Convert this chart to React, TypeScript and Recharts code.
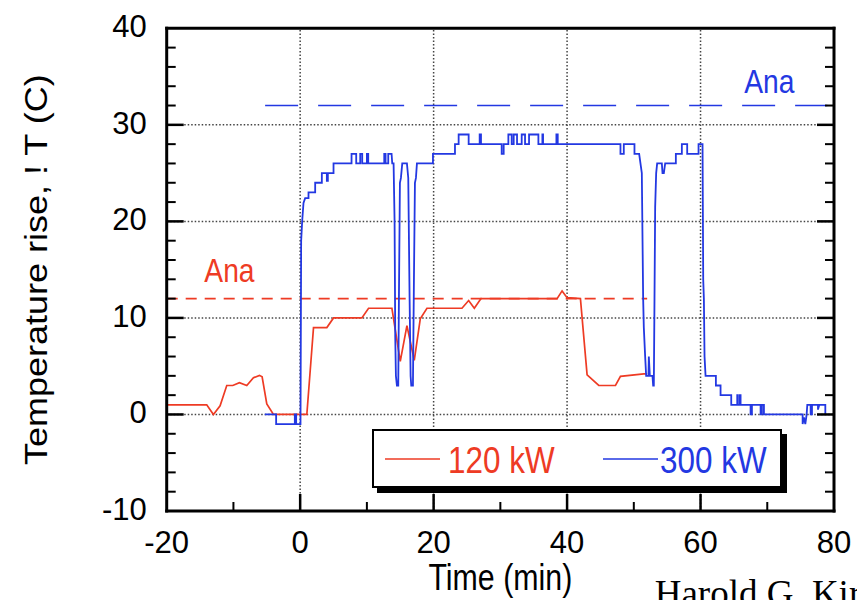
import React from 'react';
import { LineChart, Line, XAxis, YAxis, ReferenceLine, ReferenceDot, Legend } from 'recharts';

const FONT = '"Liberation Sans", Arial, Helvetica, sans-serif';
const RED = '#ee3b24';
const BLUE = '#2338e2';

const X_MIN = -20;
const X_MAX = 80;
const Y_MIN = -10;
const Y_MAX = 40;

const xTicks = [-20, -10, 0, 10, 20, 30, 40, 50, 60, 70, 80];
const xLabelTicks = [-20, 0, 20, 40, 60, 80];
const yTicks = [-10, -8, -6, -4, -2, 0, 2, 4, 6, 8, 10, 12, 14, 16, 18, 20, 22, 24, 26, 28, 30, 32, 34, 36, 38, 40];
const yLabelTicks = [-10, 0, 10, 20, 30, 40];
const xGrid = [0, 20, 40, 60];
const yGrid = [0, 10, 20, 30];

const seriesNames = ['120 kW', '300 kW'];

// 120 kW measured temperature rise
const redTime = [-20, -14, -13, -12, -11, -10.1, -9.1, -8, -7, -6.1, -5.7, -5, -4, 1.0, 2, 4, 5, 9.25, 10.25, 13.75, 15, 16, 17.1, 18, 19, 24.25, 25.25, 26.1, 27.1, 38.5, 39.25, 40, 42, 43, 44.75, 47.25, 48, 51.5, 52];
const redTemp = [1, 1, 0, 0.9, 3.0, 3.0, 3.3, 3.0, 3.8, 4.05, 3.9, 1.1, 0, 0, 9, 9, 10, 10, 11, 11, 5.5, 9.2, 5.6, 9.9, 11, 11, 11.8, 11, 12, 12, 12.8, 12.1, 12, 4.1, 3.0, 3.0, 3.95, 4.2, 4.2];

// 300 kW measured temperature rise
const blueTime = [-5.3, -3.6, -3.6, -0.8, -0.8, -0.6, -0.6, 0.05, 0.15, 0.3, 0.5, 0.75, 1.25, 1.25, 2.25, 2.25, 3.25, 3.25, 4.0, 4.0, 4.15, 4.15, 5.0, 5.0, 7.7, 7.7, 8.4, 8.4, 9.0, 9.0, 9.3, 9.3, 10.0, 10.0, 10.2, 10.2, 12.6, 12.6, 12.8, 12.8, 13.2, 13.2, 13.7, 13.8, 14.0, 14.15, 14.25, 14.35, 14.5, 14.7, 14.8, 14.95, 15.1, 15.3, 16.0, 16.2, 16.4, 16.55, 16.65, 16.9, 17.05, 17.2, 17.35, 17.5, 19.9, 19.9, 23.2, 23.2, 23.75, 23.75, 25.25, 25.25, 26.9, 26.9, 27.1, 27.1, 30.2, 30.2, 30.5, 30.5, 31.2, 31.2, 31.7, 31.7, 32.0, 32.0, 32.5, 32.5, 33.2, 33.2, 33.7, 33.7, 34.3, 34.3, 35.7, 35.7, 36.3, 36.3, 36.4, 36.4, 38.4, 38.4, 38.6, 38.6, 48.0, 48.0, 48.5, 48.5, 50.1, 50.1, 50.8, 51.2, 51.4, 51.5, 51.7, 51.85, 52.2, 52.25, 52.4, 52.8, 52.9, 53.0, 53.1, 53.2, 53.35, 53.5, 54.2, 54.3, 54.5, 54.7, 56.3, 56.3, 57.2, 57.2, 58.0, 58.0, 59.7, 59.7, 60.3, 60.4, 60.5, 60.6, 60.75, 62.3, 62.3, 63.0, 63.0, 64.6, 64.6, 65.5, 65.5, 65.6, 65.6, 65.9, 65.9, 66.0, 66.0, 67.5, 67.5, 67.7, 67.7, 69.0, 69.0, 69.2, 69.2, 69.5, 69.5, 75.3, 75.3, 75.5, 75.7, 75.9, 76.0, 76.5, 76.5, 76.7, 76.7, 77.6, 77.6, 77.8, 78.7, 78.7];
const blueTemp = [0, 0, -1, -1, 0, 0, -1, -1, 18, 20, 21.9, 22.4, 22.4, 23, 23, 24, 24, 25, 25, 24.2, 24.2, 25, 25, 26, 26, 27, 27, 26, 26, 27, 27, 26, 26, 27, 27, 26, 26, 27, 27, 26, 26, 27, 27, 26, 26, 20, 8, 4, 3, 3, 12, 24, 24.5, 26, 26, 24.5, 12, 4, 3, 3, 14, 24, 24.5, 26, 26, 27, 27, 28, 28, 29, 29, 28, 28, 29, 29, 28, 28, 27, 27, 28, 28, 29, 29, 28, 28, 29, 29, 28, 28, 29, 29, 28, 28, 29, 29, 28, 28, 29, 29, 28, 28, 29, 29, 28, 28, 27, 27, 28, 28, 27, 27, 25, 12, 9, 6, 4, 4, 6, 4, 4, 3, 3, 12, 21.5, 25, 26, 26, 25, 25, 26, 26, 27, 27, 28, 28, 27, 27, 28, 28, 14, 12, 6, 4, 4, 3, 3, 2, 2, 1, 1, 2, 2, 1, 1, 2, 2, 1, 1, 0, 0, 1, 1, 0, 0, 1, 1, 0, 0, -1, -0.3, -1, 0, 1, 1, 0, 0, 1, 1, 0.5, 1, 1, 0];

// Design limits ("Ana")
const redLimit = { value: 12, from: -20, to: 52, labelX: -10.6, labelY: 13.7 };
const blueLimit = { value: 32, from: -5.25, to: 79, labelX: 70.3, labelY: 33.3 };

const redData = redTime.map((t, i) => ({ t, v: redTemp[i] }));
const blueData = blueTime.map((t, i) => ({ t, v: blueTemp[i] }));

const BottomTick = (p: any) => {
  const { x, y, payload } = p;
  const v = payload.value;
  const major = v % 20 === 0;
  const edge = v === X_MIN || v === X_MAX;
  return (
    <g>
      {!edge && <line x1={x} x2={x} y1={y} y2={y - (major ? 17 : 9)} stroke="#000" strokeWidth={major ? 2.5 : 2} />}
      {xLabelTicks.includes(v) && (
        <text x={x} y={y + 42} textAnchor="middle" fontFamily={FONT} fontSize={31} fill="#000">{v}</text>
      )}
    </g>
  );
};

const TopTick = (p: any) => {
  const { x, y, payload } = p;
  const v = payload.value;
  const major = v % 20 === 0;
  const edge = v === X_MIN || v === X_MAX;
  if (edge) return <g />;
  return <line x1={x} x2={x} y1={y} y2={y + (major ? 17 : 9)} stroke="#000" strokeWidth={major ? 2.5 : 2} />;
};

const LeftTick = (p: any) => {
  const { x, y, payload } = p;
  const v = payload.value;
  const major = v % 10 === 0;
  const edge = v === Y_MIN || v === Y_MAX;
  return (
    <g>
      {!edge && <line x1={x} x2={x + (major ? 17 : 9)} y1={y} y2={y} stroke="#000" strokeWidth={major ? 2.5 : 2} />}
      {yLabelTicks.includes(v) && (
        <text x={x - 20} y={y + 9} textAnchor="end" fontFamily={FONT} fontSize={31} fill="#000">{v}</text>
      )}
    </g>
  );
};

const RightTick = (p: any) => {
  const { x, y, payload } = p;
  const v = payload.value;
  const major = v % 10 === 0;
  const edge = v === Y_MIN || v === Y_MAX;
  if (edge) return <g />;
  return <line x1={x} x2={x - (major ? 17 : 9)} y1={y} y2={y} stroke="#000" strokeWidth={major ? 2.5 : 2} />;
};

const XLabel = (p: any) => {
  const vb = p.viewBox || { x: 0, y: 0, width: 0 };
  const cx = vb.x + vb.width / 2;
  const by = vb.y + 79;
  return (
    <g>
      <text transform={`translate(${cx},${by}) scale(0.82,1)`} textAnchor="middle" fontFamily={FONT} fontSize={37} fill="#000">Time (min)</text>
      <text x={vb.x + 488} y={vb.y + 95} fontFamily={'"Liberation Serif", "Times New Roman", serif'} fontSize={37} fill="#000">Harold G. Kirk</text>
    </g>
  );
};

const YLabel = (p: any) => {
  const vb = p.viewBox || { x: 0, y: 0, height: 0 };
  const bx = vb.x - 20;
  const cy = vb.y + vb.height / 2;
  return (
    <text transform={`translate(${bx},${cy}) rotate(-90) scale(1,0.88)`} textAnchor="middle" fontFamily={FONT} fontSize={36} fill="#000">
      Temperature rise, ! T (C)
    </text>
  );
};

const AnaText = (color: string) => (p: any) => (
  <text transform={`translate(${p.cx},${p.cy}) scale(0.83,1)`} textAnchor="middle" fontFamily={FONT} fontSize={34} fill={color}>Ana</text>
);

const LegendBox = (props: any) => {
  const payload = props.payload || [];
  const slots = [
    { lx: 11, tx: 74 },
    { lx: 229, tx: 286 },
  ];
  return (
    <div style={{ position: 'relative', width: 406, height: 55, border: '2px solid #000', background: '#fff', boxShadow: '5px 5px 0 #000' }}>
      <svg width={406} height={55} style={{ position: 'absolute', left: 0, top: 0 }}>
        {payload.map((e: any, i: number) => {
          const s = slots[i] || slots[0];
          return (
            <g key={i}>
              <line x1={s.lx} x2={s.lx + 55} y1={28} y2={28} stroke={e.color} strokeWidth={1.6} />
              <text transform={`translate(${s.tx},${42}) scale(0.85,1)`} fontFamily={FONT} fontSize={37} fill={e.color}>{e.value}</text>
            </g>
          );
        })}
      </svg>
    </div>
  );
};

export default function App() {
  return (
    <div style={{ position: 'absolute', left: 0, top: 0, width: 857, height: 600, overflow: 'hidden', background: '#fff' }}>
      <LineChart width={857} height={600} margin={{ top: 27.3, right: 22, bottom: 29, left: 66.7 }}>
        <XAxis
          dataKey="t"
          type="number"
          domain={[X_MIN, X_MAX]}
          ticks={xTicks}
          interval={0}
          allowDataOverflow
          height={60}
          tickSize={0}
          tickMargin={0}
          tickLine={false}
          axisLine={{ stroke: '#000', strokeWidth: 3, strokeLinecap: 'square' }}
          tick={BottomTick}
          label={{ content: XLabel }}
        />
        <XAxis
          xAxisId="top"
          orientation="top"
          type="number"
          domain={[X_MIN, X_MAX]}
          ticks={xTicks}
          interval={0}
          allowDataOverflow
          height={1}
          tickSize={0}
          tickMargin={0}
          tickLine={false}
          axisLine={{ stroke: '#000', strokeWidth: 3, strokeLinecap: 'square' }}
          tick={TopTick}
        />
        <YAxis
          type="number"
          domain={[Y_MIN, Y_MAX]}
          ticks={yTicks}
          interval={0}
          allowDataOverflow
          width={100}
          tickSize={0}
          tickMargin={0}
          tickLine={false}
          axisLine={{ stroke: '#000', strokeWidth: 3, strokeLinecap: 'square' }}
          tick={LeftTick}
          label={{ content: YLabel }}
        />
        <YAxis
          yAxisId="right"
          orientation="right"
          type="number"
          domain={[Y_MIN, Y_MAX]}
          ticks={yTicks}
          interval={0}
          allowDataOverflow
          width={1}
          tickSize={0}
          tickMargin={0}
          tickLine={false}
          axisLine={{ stroke: '#000', strokeWidth: 3, strokeLinecap: 'square' }}
          tick={RightTick}
        />
        {xGrid.map((g) => (
          <ReferenceLine key={'gx' + g} x={g} stroke="#444" strokeWidth={1.5} strokeDasharray="1.5 2" />
        ))}
        {yGrid.map((g) => (
          <ReferenceLine key={'gy' + g} y={g} stroke="#444" strokeWidth={1.5} strokeDasharray="1.5 2" />
        ))}
        <ReferenceLine
          segment={[{ x: redLimit.from, y: redLimit.value }, { x: redLimit.to, y: redLimit.value }]}
          stroke={RED}
          strokeWidth={1.6}
          strokeDasharray="11 8"
        />
        <ReferenceLine
          segment={[{ x: blueLimit.from, y: blueLimit.value }, { x: blueLimit.to, y: blueLimit.value }]}
          stroke={BLUE}
          strokeWidth={1.6}
          strokeDasharray="33 20"
        />
        <ReferenceDot x={redLimit.labelX} y={redLimit.labelY} r={0} shape={AnaText(RED)} />
        <ReferenceDot x={blueLimit.labelX} y={blueLimit.labelY} r={0} shape={AnaText(BLUE)} />
        <Line data={redData} dataKey="v" name={seriesNames[0]} type="linear" stroke={RED} strokeWidth={1.7} dot={false} activeDot={false} isAnimationActive={false} />
        <Line data={blueData} dataKey="v" name={seriesNames[1]} type="linear" stroke={BLUE} strokeWidth={1.8} dot={false} activeDot={false} isAnimationActive={false} />
        <Legend
          layout="horizontal"
          verticalAlign="middle"
          align="center"
          content={LegendBox}
          wrapperStyle={{ left: 372, top: 429, width: 415, height: 64 }}
        />
      </LineChart>
    </div>
  );
}
